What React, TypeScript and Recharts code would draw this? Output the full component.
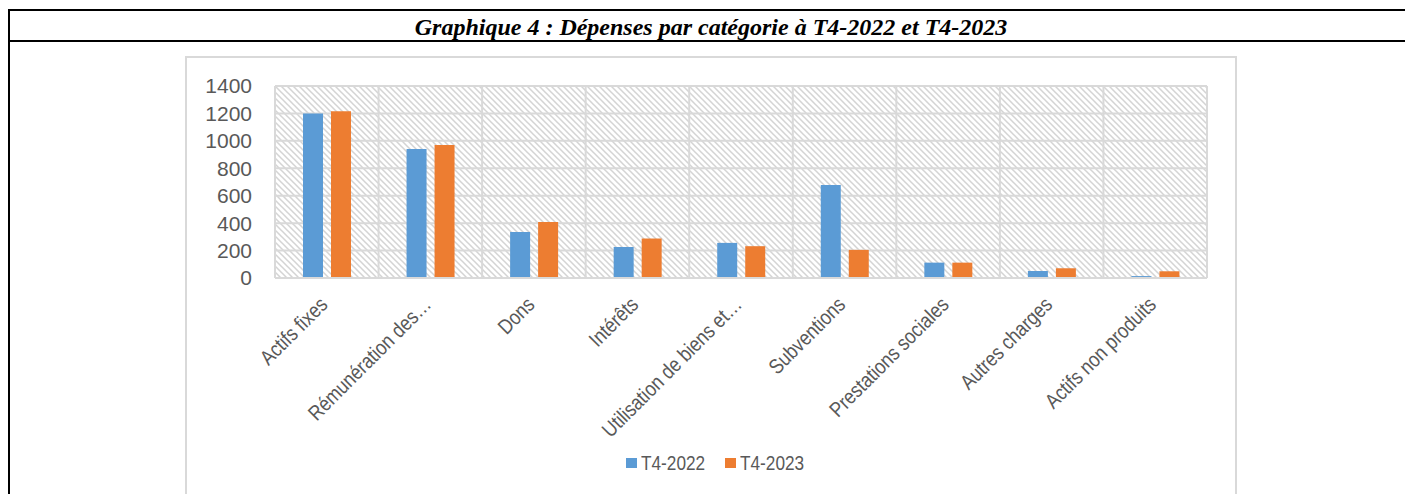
import React from 'react';
import { BarChart, Bar, XAxis, YAxis, CartesianGrid, Legend } from 'recharts';

const categories = [
  'Actifs fixes',
  'Rémunération des…',
  'Dons',
  'Intérêts',
  'Utilisation de biens et…',
  'Subventions',
  'Prestations sociales',
  'Autres charges',
  'Actifs non produits',
];
const seriesNames = ['T4-2022', 'T4-2023'];
const valuesT42022 = [1200, 940, 336, 226, 256, 679, 112, 51, 14];
const valuesT42023 = [1215, 969, 409, 288, 232, 205, 112, 71, 49];
const yTicks = [0, 200, 400, 600, 800, 1000, 1200, 1400];
const title = 'Graphique 4 : Dépenses par catégorie à T4-2022 et T4-2023';

const data = categories.map((name, i) => ({
  name,
  [seriesNames[0]]: valuesT42022[i],
  [seriesNames[1]]: valuesT42023[i],
}));

const BLUE = '#5B9BD5';
const ORANGE = '#ED7D31';
const TEXT = '#595959';
const GRID = '#d9d9d9';
const SANS = '"Liberation Sans", Arial, sans-serif';

const XTick = (props: any) => {
  const { x, y, payload } = props;
  return (
    <g transform={`translate(${x + 2},${y + 28})`}>
      <text textAnchor="end" transform="rotate(-45) scale(0.85,1)" fontFamily={SANS} fontSize={21} fill={TEXT}>
        {payload.value}
      </text>
    </g>
  );
};

const LegendContent = (props: any) => {
  const { payload = [] } = props;
  return (
    <div
      style={{
        height: 60,
        boxSizing: 'border-box',
        paddingTop: 18,
        paddingLeft: 7,
        display: 'flex',
        justifyContent: 'center',
        alignItems: 'flex-start',
      }}
    >
      {payload.map((p: any, i: number) => (
        <div key={p.value} style={{ display: 'flex', alignItems: 'center', marginRight: i < payload.length - 1 ? 20 : 0 }}>
          <span style={{ display: 'inline-block', width: 11, height: 10, background: p.color, marginRight: 4 }} />
          <span style={{ display: 'inline-block', width: 64, height: 21, overflow: 'visible', whiteSpace: 'nowrap' }}>
            <span
              style={{
                display: 'inline-block',
                fontFamily: SANS,
                fontSize: 21,
                lineHeight: '21px',
                color: TEXT,
                transform: 'scaleX(0.82)',
                transformOrigin: '0 0',
              }}
            >
              {p.value}
            </span>
          </span>
        </div>
      ))}
    </div>
  );
};

export default function App() {
  return (
    <div style={{ position: 'absolute', left: 0, top: 0, width: 1405, height: 494, overflow: 'hidden', background: '#fff' }}>
      <svg width={1405} height={494} style={{ position: 'absolute', left: 0, top: 0 }}>
        <rect x={8} y={9} width={1397} height={2} fill="#000" />
        <rect x={8} y={40} width={1397} height={2} fill="#000" />
        <rect x={8} y={9} width={2} height={485} fill="#000" />
        <text
          x={711}
          y={35}
          textAnchor="middle"
          fontFamily='"Liberation Serif", "Times New Roman", serif'
          fontWeight="bold"
          fontStyle="italic"
          fontSize={24}
          fill="#000"
        >
          {title}
        </text>
        <path d="M186,494 L186,57 L1236,57 L1236,494" fill="none" stroke={GRID} strokeWidth={2} />
      </svg>
      <div style={{ position: 'absolute', left: 186, top: 57 }}>
        <BarChart
          width={1051}
          height={437}
          data={data}
          margin={{ top: 29, right: 30, left: 0, bottom: 0 }}
          barSize={20}
          barGap={8}
        >
          <defs>
            <pattern id="hatch" patternUnits="userSpaceOnUse" width={6} height={6}>
              <rect x={0} y={0} width={6} height={6} fill="#ffffff" />
              <path d="M-1,-1 L7,7 M-1,5 L1,7 M5,-1 L7,1" stroke="#d4d4d4" strokeWidth={1.5} />
            </pattern>
          </defs>
          <CartesianGrid
            fill="url(#hatch)"
            fillOpacity={1}
            stroke={GRID}
            strokeWidth={2}
            verticalCoordinatesGenerator={({ offset }: any) =>
              Array.from({ length: categories.length + 1 }, (_, i) => offset.left + (offset.width * i) / categories.length)
            }
          />
          <XAxis
            dataKey="name"
            interval={0}
            height={156}
            tickLine={false}
            tickSize={0}
            tickMargin={0}
            axisLine={{ stroke: GRID, strokeWidth: 2 }}
            tick={<XTick />}
          />
          <YAxis
            width={89}
            domain={[0, 1400]}
            ticks={yTicks}
            interval={0}
            axisLine={false}
            tickLine={false}
            tickSize={0}
            tickMargin={23}
            tick={{ fill: TEXT, fontSize: 21, fontFamily: SANS }}
          />
          <Legend verticalAlign="bottom" content={<LegendContent />} wrapperStyle={{ left: 0, width: 1051, bottom: 0 }} />
          <Bar dataKey={seriesNames[0]} fill={BLUE} isAnimationActive={false} />
          <Bar dataKey={seriesNames[1]} fill={ORANGE} isAnimationActive={false} />
        </BarChart>
      </div>
    </div>
  );
}
